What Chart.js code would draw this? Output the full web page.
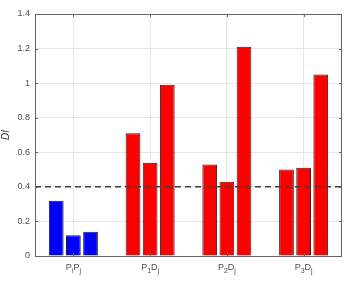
<!DOCTYPE html>
<html>
<head>
<meta charset="utf-8">
<script src="https://cdn.jsdelivr.net/npm/chart.js@4"></script>
<style>
  html, body { margin: 0; padding: 0; background: #fff; }
  #wrap { width: 362px; height: 281px; }
</style>
</head>
<body>
<div id="wrap"><canvas id="chart" width="362" height="281"></canvas></div>
<script>
// categories: [main letter, sub, main letter, sub]
const categories = [["P", "i", "P", "j"], ["P", "1", "D", "j"], ["P", "2", "D", "j"], ["P", "3", "D", "j"]];
const bar1 = [0.32, 0.71, 0.53, 0.50];
const bar2 = [0.12, 0.54, 0.43, 0.51];
const bar3 = [0.14, 0.99, 1.21, 1.05];
const barColors = ["#0000ff", "#ff0000", "#ff0000", "#ff0000"];
const yTicks = [0, 0.2, 0.4, 0.6, 0.8, 1, 1.2, 1.4];
const threshold = 0.4;
const yTitle = "DI";

const labels = categories.map(c => c.join(""));

function makeSet(values) {
    return {
        data: values,
        backgroundColor: barColors,
        borderColor: "#222",
        borderWidth: 1,
        barPercentage: 0.86,
        categoryPercentage: 0.67
    };
}

const extras = {
    id: "extras",
    afterDatasetsDraw(chart) {
        const { ctx, chartArea: a, scales: { x, y } } = chart;
        ctx.save();

        // threshold line
        const ty = y.getPixelForValue(threshold);
        ctx.strokeStyle = "#404040";
        ctx.lineWidth = 1.5;
        ctx.setLineDash([6, 4]);
        ctx.beginPath();
        ctx.moveTo(a.left, ty);
        ctx.lineTo(a.right, ty);
        ctx.stroke();
        ctx.setLineDash([]);

        // box
        ctx.strokeStyle = "#666";
        ctx.lineWidth = 1;
        ctx.strokeRect(a.left + 0.5, a.top + 0.5, a.right - a.left - 1, a.bottom - a.top);

        // inner tick marks
        ctx.beginPath();
        categories.forEach((c, i) => {
            const px = Math.round(x.getPixelForValue(i)) + 0.5;
            ctx.moveTo(px, a.bottom); ctx.lineTo(px, a.bottom - 3);
            ctx.moveTo(px, a.top); ctx.lineTo(px, a.top + 3);
        });
        yTicks.forEach(v => {
            const py = Math.round(y.getPixelForValue(v)) + 0.5;
            ctx.moveTo(a.left, py); ctx.lineTo(a.left + 3, py);
            ctx.moveTo(a.right, py); ctx.lineTo(a.right - 3, py);
        });
        ctx.stroke();

        // x labels with subscripts
        ctx.fillStyle = "#4d4d4d";
        ctx.textBaseline = "alphabetic";
        const big = "9px 'Liberation Sans', Arial, sans-serif";
        const small = "7px 'Liberation Sans', Arial, sans-serif";
        categories.forEach((c, i) => {
            const parts = [[c[0], big, 0], [c[1], small, 3], [c[2], big, 0], [c[3], small, 3]];
            let w = 0;
            parts.forEach(p => { ctx.font = p[1]; w += ctx.measureText(p[0]).width; });
            let px = x.getPixelForValue(i) - w / 2;
            const base = a.bottom + 14;
            parts.forEach(p => {
                ctx.font = p[1];
                ctx.fillText(p[0], px, base + p[2]);
                px += ctx.measureText(p[0]).width;
            });
        });

        // y title
        ctx.font = "italic 10px 'Liberation Sans', Arial, sans-serif";
        ctx.fillStyle = "#333";
        ctx.textAlign = "center";
        ctx.translate(9, (a.top + a.bottom) / 2);
        ctx.rotate(-Math.PI / 2);
        ctx.fillText(yTitle, 0, 0);
        ctx.restore();
    }
};

new Chart(document.getElementById("chart"), {
    type: "bar",
    data: {
        labels,
        datasets: [makeSet(bar1), makeSet(bar2), makeSet(bar3)]
    },
    options: {
        responsive: false,
        animation: false,
        layout: { padding: { top: 14, right: 20, left: 0, bottom: 0 } },
        plugins: {
            legend: { display: false },
            tooltip: { enabled: false }
        },
        scales: {
            x: {
                grid: { offset: false, color: "#e6e6e6", drawTicks: false },
                border: { display: false },
                ticks: { display: false },
                afterFit(scale) { scale.height = 25; }
            },
            y: {
                min: 0,
                max: 1.4,
                afterBuildTicks(scale) { scale.ticks = yTicks.map(v => ({ value: v })); },
                grid: { color: "#e6e6e6", drawTicks: false },
                border: { display: false },
                ticks: {
                    color: "#4d4d4d",
                    padding: 5,
                    font: { size: 9, family: "'Liberation Sans', Arial, sans-serif" },
                    callback: v => String(Math.round(v * 10) / 10)
                },
                afterFit(scale) { scale.width = 35; }
            }
        }
    },
    plugins: [extras]
});
</script>
</body>
</html>
